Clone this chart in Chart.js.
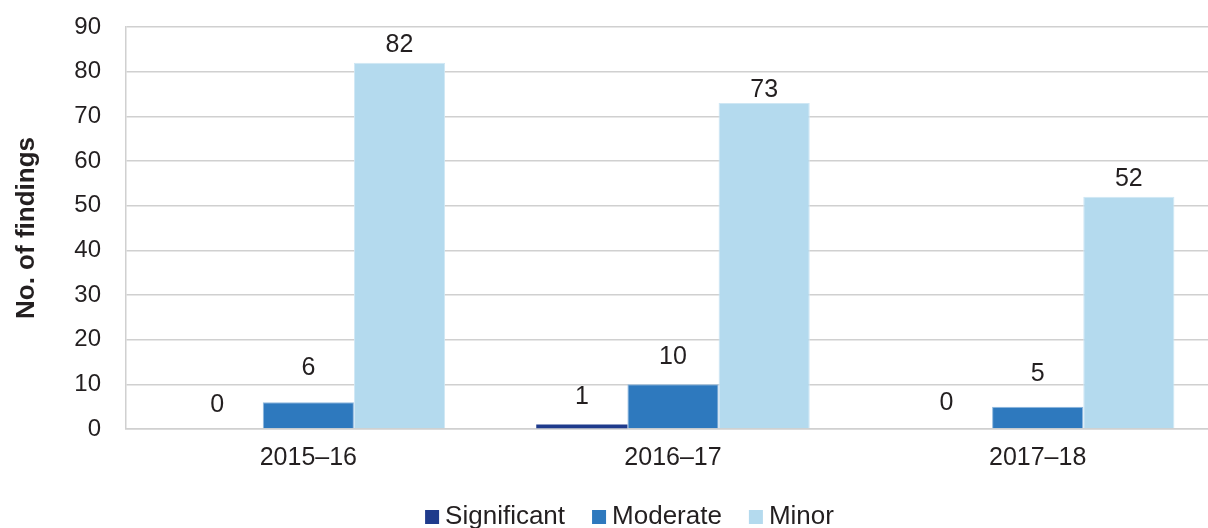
<!DOCTYPE html>
<html>
<head>
<meta charset="utf-8">
<title>Findings by year</title>
<script src="https://cdn.jsdelivr.net/npm/chart.js@4/dist/chart.umd.min.js"></script>
<style>
  html, body { margin: 0; padding: 0; background: #ffffff; overflow: hidden; }
  #wrap { position: relative; width: 1220px; height: 528px; }
</style>
</head>
<body>
<div id="wrap"><canvas id="chart"></canvas></div>
<script>
// Financial years shown along the x-axis
const years = ['2015\u201316', '2016\u201317', '2017\u201318'];

// Number of findings per rating
const significant = [0, 1, 0];
const moderate = [6, 10, 5];
const minor = [82, 73, 52];

// Y-axis range and step
const yMax = 90;
const yStep = 10;

const FONT = '"Liberation Sans", Arial, sans-serif';
const INK = '#231f20';
const GRID = '#d0d0d0';

// Writes each bar's value just above it; small bars get a little extra lift
const valueLabels = {
  id: 'valueLabels',
  afterDatasetsDraw(chart, args, opts) {
    const ctx = chart.ctx;
    ctx.save();
    ctx.font = '25px ' + FONT;
    ctx.fillStyle = INK;
    ctx.textAlign = 'center';
    ctx.textBaseline = 'middle';
    chart.data.datasets.forEach((ds, di) => {
      const meta = chart.getDatasetMeta(di);
      meta.data.forEach((bar, i) => {
        const lift = opts.gap + ((opts.extraLift[di] || [])[i] || 0);
        ctx.fillText(String(ds.data[i]), bar.x, bar.y - lift);
      });
    });
    ctx.restore();
  }
};

// Legend row along the bottom edge with small square keys
const bottomLegend = {
  id: 'bottomLegend',
  afterDraw(chart, args, opts) {
    const ctx = chart.ctx;
    ctx.save();
    ctx.font = opts.fontSize + 'px ' + FONT;
    const items = chart.data.datasets.map(ds => ({
      text: ds.label,
      color: ds.backgroundColor,
      w: ctx.measureText(ds.label).width
    }));
    const total = items.reduce((s, it) => s + opts.box + opts.textGap + it.w, 0)
      + opts.itemGap * (items.length - 1);
    let x = opts.centerX - total / 2;
    ctx.textAlign = 'left';
    ctx.textBaseline = 'alphabetic';
    items.forEach(it => {
      ctx.fillStyle = it.color;
      ctx.fillRect(x, opts.baseline - opts.box, opts.box, opts.box);
      x += opts.box + opts.textGap;
      ctx.fillStyle = INK;
      ctx.fillText(it.text, x, opts.baseline);
      x += it.w + opts.itemGap;
    });
    ctx.restore();
  }
};

new Chart(document.getElementById('chart'), {
  type: 'bar',
  data: {
    labels: years,
    datasets: [
      { label: 'Significant', data: significant, backgroundColor: '#1f3b8c', borderColor: '#1f3b8c', borderWidth: 0 },
      { label: 'Moderate', data: moderate, backgroundColor: '#2e79be', borderColor: '#8fb8de', borderWidth: 1 },
      { label: 'Minor', data: minor, backgroundColor: '#b4daee', borderColor: '#cfe7f4', borderWidth: 1 }
    ]
  },
  options: {
    responsive: true,
    maintainAspectRatio: false,
    animation: false,
    layout: { padding: { top: 27, right: 0, bottom: 0, left: 0 } },
    datasets: { bar: { categoryPercentage: 0.75, barPercentage: 1.0 } },
    plugins: {
      legend: { display: false },
      tooltip: { enabled: false },
      valueLabels: {
        gap: 18,
        extraLift: [[6, 9.5, 8], [16, 9, 15], [0, -5, 0]]
      },
      bottomLegend: { centerX: 629.5, baseline: 524, box: 14, textGap: 6, itemGap: 27, fontSize: 26 }
    },
    scales: {
      x: {
        grid: { display: false, drawTicks: false },
        border: { display: true, color: GRID, width: 1.5 },
        ticks: { color: INK, font: { family: FONT, size: 25 }, padding: 14, maxRotation: 0 },
        afterFit(scale) { scale.height = 99; }
      },
      y: {
        min: 0,
        max: yMax,
        ticks: { stepSize: yStep, color: INK, font: { family: FONT, size: 24 }, padding: 25 },
        grid: { color: GRID, lineWidth: 1.5, drawTicks: false },
        border: { display: true, color: GRID, width: 1.5 },
        title: {
          display: true,
          text: 'No. of findings',
          color: INK,
          font: { family: FONT, size: 26, weight: 'bold' },
          padding: { top: 11, bottom: 0 }
        },
        afterFit(scale) {
          scale.width = 126;
          scale.paddingTop = 0;
          scale.paddingBottom = 0;
        }
      }
    }
  },
  plugins: [valueLabels, bottomLegend]
});
</script>
</body>
</html>
